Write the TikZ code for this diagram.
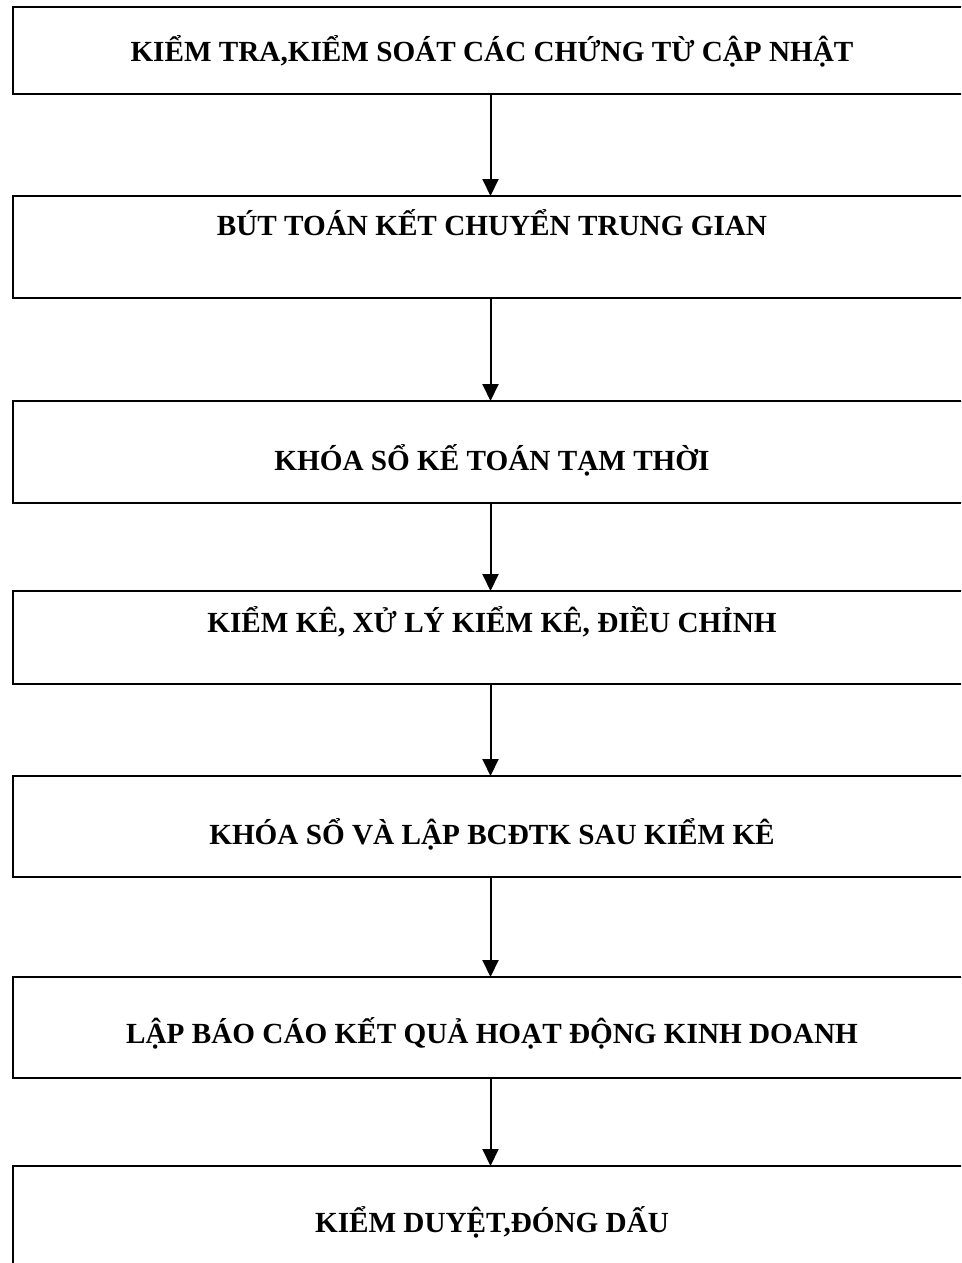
\documentclass[tikz,border=0pt]{standalone}
\usepackage{fontspec}
\setmainfont{Liberation Serif}
\usetikzlibrary{arrows.meta}
\begin{document}
\begin{tikzpicture}[x=1pt,y=-1pt,
  stepbox/.style={draw, line width=2.2pt, rectangle, inner sep=0pt, outer sep=0pt,
                  minimum width=958pt},
  steptext/.style={anchor=base, inner sep=0pt, font=\fontsize{29.2}{35}\selectfont\bfseries},
  flow/.style={line width=2pt, -{Triangle[width=16pt,length=17pt]}}]
  \clip (0,0) rectangle (961,1263);
  % boxes (the right and bottom edges run off the page)
  \node[stepbox, minimum height=87pt]  (b1) at (492,50.5) {};
  \node[stepbox, minimum height=102pt] (b2) at (492,247) {};
  \node[stepbox, minimum height=102pt] (b3) at (492,452) {};
  \node[stepbox, minimum height=93pt]  (b4) at (492,637.5) {};
  \node[stepbox, minimum height=101pt] (b5) at (492,826.5) {};
  \node[stepbox, minimum height=101pt] (b6) at (492,1027.5) {};
  \node[stepbox, minimum height=102pt] (b7) at (492,1217) {};
  % step titles
  \node[steptext] (t1) at (492,62)   {KIỂM TRA,KIỂM SOÁT CÁC CHỨNG TỪ CẬP NHẬT};
  \node[steptext] (t2) at (492,235)  {BÚT TOÁN KẾT CHUYỂN TRUNG GIAN};
  \node[steptext] (t3) at (492,470)  {KHÓA SỔ KẾ TOÁN TẠM THỜI};
  \node[steptext] (t4) at (492,632)  {KIỂM KÊ, XỬ LÝ KIỂM KÊ, ĐIỀU CHỈNH};
  \node[steptext] (t5) at (492,844)  {KHÓA SỔ VÀ LẬP BCĐTK SAU KIỂM KÊ};
  \node[steptext] (t6) at (492,1043) {LẬP BÁO CÁO KẾT QUẢ HOẠT ĐỘNG KINH DOANH};
  \node[steptext] (t7) at (492,1232) {KIỂM DUYỆT,ĐÓNG DẤU};
  % connectors
  \foreach \a/\b in {b1/b2,b2/b3,b3/b4,b4/b5,b5/b6,b6/b7}
    \draw[flow] ([xshift=-1.5pt]\a.south) -- ([xshift=-1.5pt]\b.north);
\end{tikzpicture}
\end{document}
